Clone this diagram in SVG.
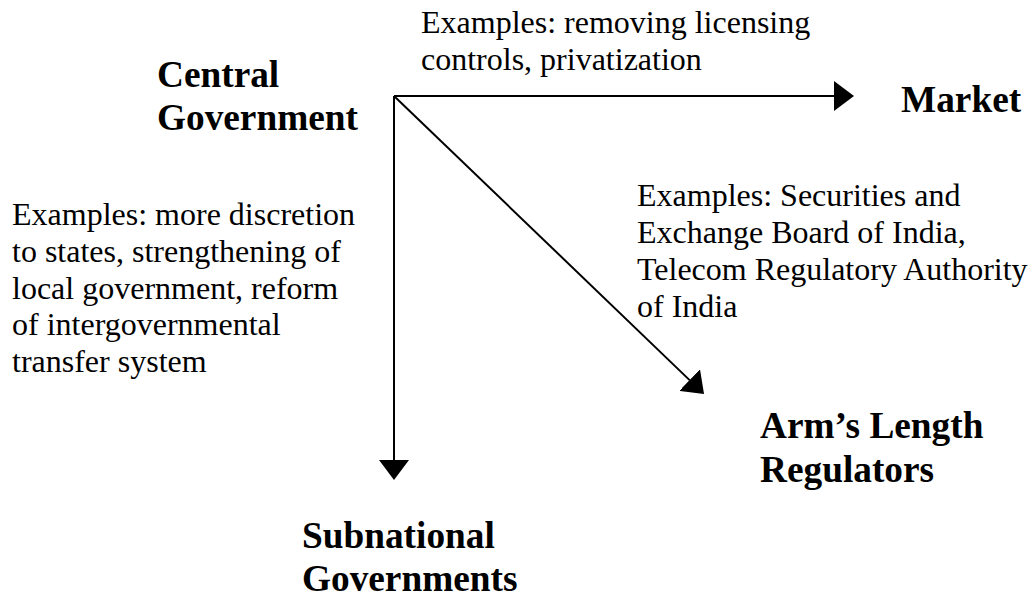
<svg xmlns="http://www.w3.org/2000/svg" width="1035" height="598" viewBox="0 0 1035 598">
<style>
.t{font-family:"Liberation Serif","Times New Roman",serif;font-size:32px;fill:#000}
.b{font-family:"Liberation Serif","Times New Roman",serif;font-size:37.3px;font-weight:bold;fill:#000}
.c{stroke:#000;stroke-width:2;fill:none}
</style>
<defs>
<marker id="ah" markerUnits="userSpaceOnUse" markerWidth="20" markerHeight="30" refX="0" refY="15" orient="auto" viewBox="0 0 20 30">
<path d="M0,0 L20,15 L0,30 Z" fill="#000"/>
</marker>
</defs>
<rect width="1035" height="598" fill="#fff"/>
<g id="connectors">
<line class="c" x1="394" y1="96" x2="834" y2="96" marker-end="url(#ah)"/>
<line class="c" x1="394" y1="96" x2="394" y2="460" marker-end="url(#ah)"/>
<line class="c" x1="394" y1="96" x2="689.6" y2="380.1" marker-end="url(#ah)"/>
</g>
<g id="central">
<text class="b" x="157" y="87">Central</text>
<text class="b" x="157" y="130">Government</text>
</g>
<g id="market">
<text class="b" x="901" y="112">Market</text>
</g>
<g id="regulators">
<text class="b" x="760" y="438">Arm’s Length</text>
<text class="b" x="760" y="482">Regulators</text>
</g>
<g id="subnational">
<text class="b" x="302" y="548">Subnational</text>
<text class="b" x="302" y="591">Governments</text>
</g>
<g id="label-market">
<text class="t" x="421" y="33">Examples: removing licensing</text>
<text class="t" x="421" y="70">controls, privatization</text>
</g>
<g id="label-regulators">
<text class="t" x="637" y="206">Examples: Securities and</text>
<text class="t" x="637" y="243">Exchange Board of India,</text>
<text class="t" x="637" y="280">Telecom Regulatory Authority</text>
<text class="t" x="637" y="317">of India</text>
</g>
<g id="label-subnational">
<text class="t" x="12" y="225">Examples: more discretion</text>
<text class="t" x="12" y="262">to states, strengthening of</text>
<text class="t" x="12" y="299">local government, reform</text>
<text class="t" x="12" y="335">of intergovernmental</text>
<text class="t" x="12" y="372">transfer system</text>
</g>
</svg>
